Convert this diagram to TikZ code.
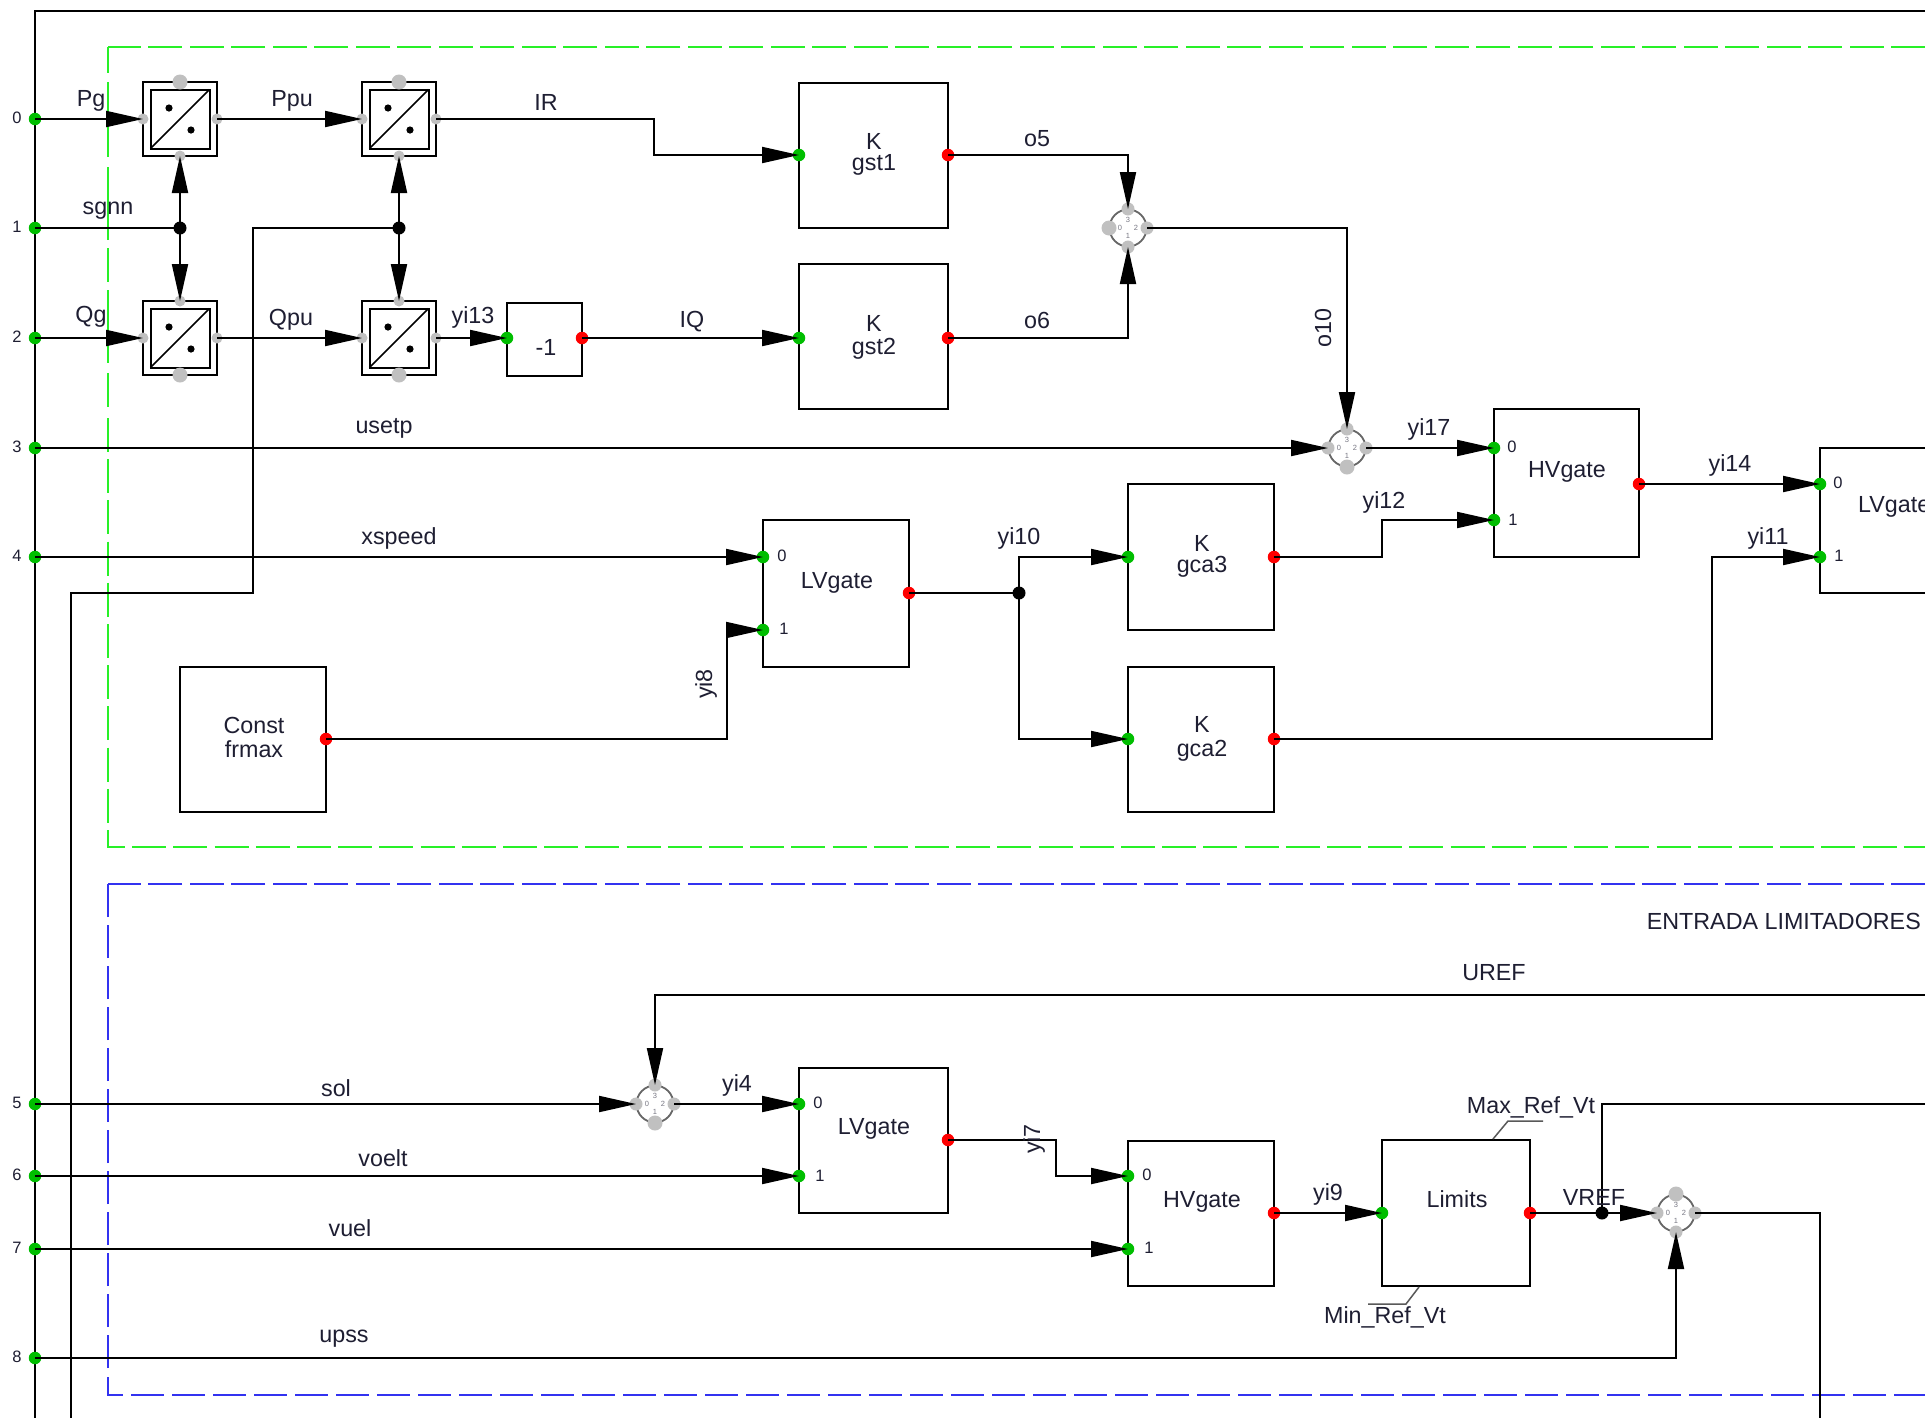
\documentclass[tikz,border=0pt]{standalone}
\usepackage{fontspec}
\setmainfont{Liberation Sans}
\usetikzlibrary{arrows.meta}
\definecolor{pingreen}{RGB}{0,190,0}
\definecolor{pinred}{RGB}{255,0,0}
\definecolor{pingrey}{RGB}{192,192,192}
\definecolor{dashgreen}{RGB}{40,240,40}
\definecolor{dashblue}{RGB}{50,50,240}
\definecolor{lblcol}{RGB}{30,30,50}
\tikzset{
  x=1pt,y=-1pt,
  blockbox/.style={draw=black,line width=2pt,fill=white,inner sep=0pt,outer sep=0pt,anchor=north west},
  lbl/.style={font=\fontsize{23.3}{25}\selectfont,text=lblcol,inner sep=0pt},
  lblsmall/.style={font=\fontsize{16.5}{18}\selectfont,text=lblcol,inner sep=0pt},
  lbltiny/.style={font=\fontsize{7.5}{8}\selectfont,text=lblcol!60,inner sep=0pt},
  pindot/.style={circle,inner sep=0pt,outer sep=0pt,minimum size=12.5pt},
  inpin/.style={pindot,fill=pingreen},
  outpin/.style={pindot,fill=pinred},
  greypin/.style={pindot,fill=pingrey,minimum size=11pt},
  sumpin/.style={pindot,fill=pingrey,minimum size=13pt},
  greyblob/.style={pindot,fill=pingrey,minimum size=15pt},
  junct/.style={circle,fill=black,inner sep=0pt,minimum size=13pt},
  wire/.style={draw=black,line width=2pt},
  arr/.style={wire,-{Triangle[length=37pt,width=16pt]}},
  gframe/.style={draw=dashgreen,line width=2pt},
  bframe/.style={draw=dashblue,line width=2pt},
  convrect/.style={draw=black,line width=2pt,fill=white,inner sep=0pt,outer sep=0pt,minimum size=#1},
  sumring/.style={circle,draw=black!60,line width=1.8pt,fill=white,inner sep=0pt,outer sep=0pt,minimum size=37pt},
  leader/.style={draw=black!65,line width=1.5pt},
}
\newcommand{\conv}[3]{% name, x, y
  \node[convrect=74pt] (#1o) at (#2,#3) {};
  \node[convrect=59pt] (#1) at (#2,#3) {};
  \draw[black,line width=1.5pt] (#1.south west) -- (#1.north east);
  \fill[black] (#2-11,#3-11) circle (3.6pt) (#2+11,#3+11) circle (3.6pt);
  \node[greypin] (#1l) at (#2-37,#3) {};
  \node[greypin] (#1r) at (#2+37,#3) {};
  \node[greypin] (#1t) at (#2,#3-37) {};
  \node[greypin] (#1b) at (#2,#3+37) {};
}
\newcommand{\summ}[3]{% name, x, y
  \node[sumring] (#1) at (#2,#3) {};
  \node[lbltiny] at (#2-8,#3) {0};
  \node[lbltiny] at (#2,#3+8) {1};
  \node[lbltiny] at (#2+8,#3) {2};
  \node[lbltiny] at (#2,#3-8) {3};
  \node[sumpin] (#1l) at (#2-19,#3) {};
  \node[sumpin] (#1r) at (#2+19,#3) {};
  \node[sumpin] (#1t) at (#2,#3-19) {};
  \node[sumpin] (#1b) at (#2,#3+19) {};
}
\newcommand{\extpin}[3]{% name, y, label
  \node[inpin] (#1) at (35,#2) {};
  \node[lblsmall,anchor=center] at (17,#2-1) {#3};
}
\newcommand{\block}[5]{% name, x1, y1, x2, y2
  \node[blockbox,minimum width=#4-#2,minimum height=#5-#3] (#1) at (#2,#3) {};
}
\begin{document}
\begin{tikzpicture}
\clip (0,0) rectangle (1925,1417);
\fill[white] (0,0) rectangle (1925,1417);

% frames
\draw[gframe,dash pattern=on 34pt off 7.5pt] (1925,47) -- (108,47);
\draw[gframe,dash pattern=on 26pt off 9pt on 75pt off 10pt on 73pt off 8pt on 34pt off 8pt on 73pt off 10pt on 34pt off 11pt] (108,47) -- (108,418);
\draw[gframe,dash pattern=on 34pt off 7.2pt,dash phase=0pt] (108,418) -- (108,847) -- (1925,847);
\draw[bframe,dash pattern=on 34pt off 7.5pt] (1925,884) -- (108,884);
\draw[bframe,dash pattern=on 33pt off 8pt] (108,1368) -- (108,884);
\draw[bframe,dash pattern=on 33pt off 8pt] (108,1377) -- (108,1395) -- (1925,1395);

% outer bus
\coordinate (bustop) at (35,11);
\coordinate (busbot) at (35,1420);
\coordinate (topright) at (1930,11);
\draw[wire] (busbot) -- (bustop) -- (topright);

% blocks
\block{gstA}{799}{83}{948}{228}
\block{gstB}{799}{264}{948}{409}
\block{neg}{507}{303}{582}{376}
\block{hvtop}{1494}{409}{1639}{557}
\block{lvmid}{763}{520}{909}{667}
\block{cfr}{180}{667}{326}{812}
\block{gcaC}{1128}{484}{1274}{630}
\block{gcaB}{1128}{667}{1274}{812}
\block{lvright}{1820}{448}{1970}{593}
\block{lvlow}{799}{1068}{948}{1213}
\block{hvlow}{1128}{1141}{1274}{1286}
\block{lim}{1382}{1140}{1530}{1286}

% block texts
\node[lbl] at (874,141) {K};
\node[lbl] at (874,165) {gst1};
\node[lbl] at (874,323) {K};
\node[lbl] at (874,349) {gst2};
\node[lbl] at (546,347) {-1};
\node[lbl] at (1567,472) {HVgate};
\node[lbl,anchor=west] at (1858,507) {LVgate};
\node[lbl] at (837,583) {LVgate};
\node[lbl] at (254,725) {Const};
\node[lbl] at (254,749) {frmax};
\node[lbl] at (1202,543) {K};
\node[lbl] at (1202,567) {gca3};
\node[lbl] at (1202,724) {K};
\node[lbl] at (1202,751) {gca2};
\node[lbl] at (874,1129) {LVgate};
\node[lbl] at (1202,1202) {HVgate};
\node[lbl] at (1457,1199) {Limits};

% converters and summers
\conv{cPg}{180}{119}
\conv{cPu}{399}{119}
\conv{cQg}{180}{338}
\conv{cQu}{399}{338}
\summ{sA}{1128}{228}
\summ{sB}{1347}{448}
\summ{sC}{655}{1104}
\summ{sD}{1676}{1213}
\node[greyblob] at (sAl) {};
\node[greyblob] at (sBb) {};
\node[greyblob] at (sCb) {};
\node[greyblob] at (sDt) {};
\node[greyblob] at (cPgt) {};
\node[greyblob] at (cPut) {};
\node[greyblob] at (cQgb) {};
\node[greyblob] at (cQub) {};

% external pins
\extpin{p0}{119}{0}
\extpin{p1}{228}{1}
\extpin{p2}{338}{2}
\extpin{p3}{448}{3}
\extpin{p4}{557}{4}
\extpin{p5}{1104}{5}
\extpin{p6}{1176}{6}
\extpin{p7}{1249}{7}
\extpin{p8}{1358}{8}

% block pins
\node[inpin] (gstAi) at (799,155) {};
\node[outpin] (gstAo) at (948,155) {};
\node[inpin] (gstBi) at (799,338) {};
\node[outpin] (gstBo) at (948,338) {};
\node[inpin] (negi) at (507,338) {};
\node[outpin] (nego) at (582,338) {};
\node[inpin] (hvtopa) at (1494,448) {};
\node[inpin] (hvtopb) at (1494,520) {};
\node[outpin] (hvtopo) at (1639,484) {};
\node[inpin] (lvra) at (1820,484) {};
\node[inpin] (lvrb) at (1820,557) {};
\node[inpin] (lvma) at (763,557) {};
\node[inpin] (lvmb) at (763,630) {};
\node[outpin] (lvmo) at (909,593) {};
\node[outpin] (cfro) at (326,739) {};
\node[inpin] (gcaCi) at (1128,557) {};
\node[outpin] (gcaCo) at (1274,557) {};
\node[inpin] (gcaBi) at (1128,739) {};
\node[outpin] (gcaBo) at (1274,739) {};
\node[inpin] (lvla) at (799,1104) {};
\node[inpin] (lvlb) at (799,1176) {};
\node[outpin] (lvlo) at (948,1140) {};
\node[inpin] (hvla) at (1128,1176) {};
\node[inpin] (hvlb) at (1128,1249) {};
\node[outpin] (hvlo) at (1274,1213) {};
\node[inpin] (limi) at (1382,1213) {};
\node[outpin] (limo) at (1530,1213) {};

% gate pin numbers
\node[lblsmall] at (1512,447) {0};
\node[lblsmall] at (1513,520) {1};
\node[lblsmall] at (1838,483) {0};
\node[lblsmall] at (1839,556) {1};
\node[lblsmall] at (782,556) {0};
\node[lblsmall] at (784,629) {1};
\node[lblsmall] at (818,1103) {0};
\node[lblsmall] at (820,1176) {1};
\node[lblsmall] at (1147,1175) {0};
\node[lblsmall] at (1149,1248) {1};

% junctions
\node[junct] (jA) at (180,228) {};
\node[junct] (jB) at (399,228) {};
\node[junct] (jC) at (1019,593) {};
\node[junct] (jD) at (1602,1213) {};

% wires
\draw[arr] (p0.center) -- (cPgl.center);
\draw[arr] (cPgr.center) -- (cPul.center);
\draw[arr] (cPur.center) -| (654,155) -- (gstAi.center);
\draw[wire] (p1.center) -- (jA.center);
\draw[arr] (jA.center) -- (cPgb.center);
\draw[arr] (jA.center) -- (cQgt.center);
\coordinate (busB) at (71,1420);
\draw[wire] (busB) |- (253,593) |- (jB.center);
\draw[arr] (jB.center) -- (cPub.center);
\draw[arr] (jB.center) -- (cQut.center);
\draw[arr] (p2.center) -- (cQgl.center);
\draw[arr] (cQgr.center) -- (cQul.center);
\draw[arr] (cQur.center) -- (negi.center);
\draw[arr] (nego.center) -- (gstBi.center);
\draw[arr] (gstAo.center) -| (sAt.center);
\draw[arr] (gstBo.center) -| (sAb.center);
\draw[arr] (sAr.center) -| (sBt.center);
\draw[arr] (p3.center) -- (sBl.center);
\draw[arr] (sBr.center) -- (hvtopa.center);
\draw[arr] (hvtopo.center) -- (lvra.center);
\draw[arr] (gcaCo.center) -- (1382,557) -- (1382,520) -- (hvtopb.center);
\draw[arr] (p4.center) -- (lvma.center);
\draw[arr] (cfro.center) -- (727,739) -- (727,630) -- (lvmb.center);
\draw[wire] (lvmo.center) -- (jC.center);
\draw[arr] (jC.center) |- (gcaCi.center);
\draw[arr] (jC.center) |- (gcaBi.center);
\draw[arr] (gcaBo.center) -- (1712,739) -- (1712,557) -- (lvrb.center);

\coordinate (urefR) at (1930,995);
\draw[arr] (urefR) -| (sCt.center);
\draw[arr] (p5.center) -- (sCl.center);
\draw[arr] (sCr.center) -- (lvla.center);
\draw[arr] (p6.center) -- (lvlb.center);
\draw[arr] (lvlo.center) -- (1056,1140) -- (1056,1176) -- (hvla.center);
\draw[arr] (p7.center) -- (hvlb.center);
\draw[arr] (hvlo.center) -- (limi.center);
\draw[arr] (limo.center) -- (sDl.center);
\coordinate (vrefR) at (1930,1104);
\draw[wire] (jD.center) |- (vrefR);
\coordinate (sumout) at (1820,1420);
\draw[wire] (sDr.center) -| (sumout);
\draw[arr] (p8.center) -| (sDb.center);

% leaders
\draw[leader] (1493,1139) -- (1508,1121) -- (1543,1121);
\draw[leader] (1419,1287) -- (1406,1304) -- (1368,1304);

% labels
\node[lbl] at (91,101) {Pg};
\node[lbl] at (292,101) {Ppu};
\node[lbl] at (546,102) {IR};
\node[lbl] at (1037,139) {o5};
\node[lbl] at (108,211) {sgnn};
\node[lbl] at (91,317) {Qg};
\node[lbl] at (291,320) {Qpu};
\node[lbl] at (473,317) {yi13};
\node[lbl] at (692,322) {IQ};
\node[lbl] at (1037,320) {o6};
\node[lbl,rotate=90] at (1323,328) {o10};
\node[lbl] at (384,428) {usetp};
\node[lbl] at (1429,429) {yi17};
\node[lbl] at (1730,465) {yi14};
\node[lbl] at (1384,502) {yi12};
\node[lbl] at (1768,538) {yi11};
\node[lbl] at (399,538) {xspeed};
\node[lbl] at (1019,538) {yi10};
\node[lbl,rotate=90] at (706,684) {yi8};
\node[lbl,anchor=east] at (1921,921) {ENTRADA LIMITADORES};
\node[lbl] at (1494,973) {UREF};
\node[lbl] at (336,1088) {sol};
\node[lbl] at (737,1085) {yi4};
\node[lbl] at (383,1158) {voelt};
\node[lbl] at (350,1228) {vuel};
\node[lbl] at (344,1339) {upss};
\node[lbl,rotate=90] at (1034,1139) {yi7};
\node[lbl] at (1328,1194) {yi9};
\node[lbl] at (1531,1107) {Max\_Ref\_Vt};
\node[lbl] at (1385,1317) {Min\_Ref\_Vt};
\node[lbl] at (1594,1197) {VREF};
\end{tikzpicture}
\end{document}
